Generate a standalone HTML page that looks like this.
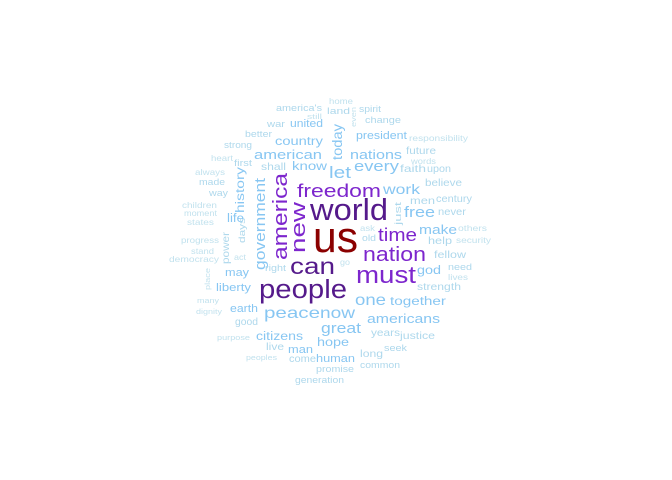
<!DOCTYPE html>
<html><head><meta charset="utf-8"><style>
html,body{margin:0;padding:0;background:#fff;}
svg{display:block;font-family:"Liberation Sans",Arial,sans-serif;}
</style></head><body>
<svg id="cloud" width="672" height="480" viewBox="0 0 672 480"></svg>
<script>
// word, size (relative frequency → font px)
const words = ["us","world","people","can","must","nation","time","freedom","america","new","government","let","today","every","nations","work","free","just","make","one","together","americans","great","peace","now","citizens","hope","man","live","come","human","promise","generation","long","seek","common","years","justice","god","fellow","need","lives","strength","help","security","others","old","ask","go","men","century","never","believe","faith","upon","words","future","president","responsibility","change","spirit","even","home","land","america's","still","war","united","better","country","strong","american","heart","first","shall","know","always","made","way","history","life","days","children","moment","states","progress","power","stand","democracy","act","right","may","place","liberty","many","dignity","earth","good","purpose","peoples"];
const sizes = [46,32,28,25,26,22,20,20,22,22,16,18,15,16,14,15,16,10,14,17,13,14,16,17,17,13,13,12,11,11,12,10,10,11,10,10,11,11,13,11,10,9,11,11,9,9,10,9,9,11,11,11,11,11,11,9,11,12,9,10,10,8,9,10,10,8,10,12,10,13,10,14,9,10,11,13,9,10,10,13,13,10,9,9,9,9,11,9,9,9,10,12,8,12,8,8,12,11,8,8];
// layout: [x-left, x-right, baseline, rotated]
const layout = [[313,358,252,0],[310,388,220,0],[259,347,298,0],[290,335,274,0],[356,416,283,0],[363,426,261,0],[378,417,241,0],[297,381,197,0],[287,260,173,1],[305,253,202,1],[265,270,178,1],[329,351,178,0],[342,160,124,1],[354,399,171,0],[350,402,159,0],[383,420,194,0],[404,435,217,0],[401,225,202,1],[419,457,234,0],[355,386,305,0],[390,446,305,0],[367,440,323,0],[321,361,333,0],[264,320,318,0],[320,355,318,0],[256,303,340,0],[317,349,346,0],[288,313,353,0],[266,284,350,0],[289,316,362,0],[316,355,362,0],[316,354,372,0],[295,344,383,0],[360,383,357,0],[384,407,351,0],[360,400,368,0],[371,400,336,0],[400,435,339,0],[417,441,274,0],[434,466,258,0],[448,472,270,0],[448,468,280,0],[417,461,290,0],[428,452,244,0],[456,491,243,0],[458,487,231,0],[362,376,241,0],[360,375,231,0],[340,350,265,0],[410,435,204,0],[436,472,202,0],[438,466,215,0],[425,462,186,0],[400,426,172,0],[427,451,172,0],[411,436,164,0],[406,436,154,0],[356,407,139,0],[409,468,141,0],[365,401,123,0],[359,381,112,0],[356,127,107,1],[329,353,104,0],[327,350,114,0],[276,322,111,0],[307,322,119,0],[267,285,127,0],[290,323,127,0],[245,272,137,0],[275,323,145,0],[224,252,148,0],[254,322,159,0],[211,233,161,0],[234,252,166,0],[261,286,170,0],[292,327,170,0],[195,225,175,0],[199,225,185,0],[209,228,196,0],[244,213,167,1],[227,244,222,0],[245,243,218,1],[182,217,208,0],[184,217,216,0],[187,214,225,0],[181,219,243,0],[229,264,232,1],[191,214,254,0],[169,219,262,0],[234,246,260,0],[265,286,271,0],[225,249,276,0],[210,290,268,1],[216,251,291,0],[197,219,303,0],[196,222,314,0],[230,258,312,0],[235,258,325,0],[217,250,340,0],[246,277,360,0]];
const dark = {"us":"#8B0000","world":"#551A8B","people":"#551A8B","can":"#551A8B"};
const purple = ["must","nation","time","freedom","america","new"];
function colorFor(w,s){
  if(dark[w]) return dark[w];
  if(purple.includes(w)) return "#7D26CD";
  if(s>=12) return "#87C6F2";
  if(s>=10) return "#AED8EC";
  return "#C2E2EE";
}
const svg=document.getElementById('cloud');
const NS="http://www.w3.org/2000/svg";
words.forEach((w,i)=>{
  const s=sizes[i], L=layout[i];
  const t=document.createElementNS(NS,'text');
  
  
  t.setAttribute('font-size',(s*0.94).toFixed(1));
  t.setAttribute('fill',colorFor(w,s));
  t.setAttribute('text-anchor','middle');
  t.setAttribute('lengthAdjust','spacingAndGlyphs');
  if(!L[3]){
    t.setAttribute('x',(L[0]+L[1])/2);
    t.setAttribute('y',L[2]);
    t.setAttribute('textLength',L[1]-L[0]);
  } else {
    const cy=(L[1]+L[2])/2;
    t.setAttribute('transform','translate('+L[0]+','+cy+') rotate(-90)');
    t.setAttribute('textLength',Math.abs(L[1]-L[2]));
  }
  t.textContent=w;
  svg.appendChild(t);
});
</script>
</body></html>
